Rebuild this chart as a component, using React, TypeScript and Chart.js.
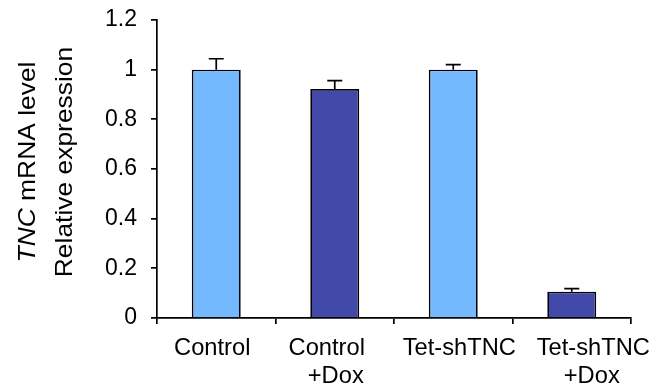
import React, { useEffect, useRef } from "react";
import { Chart, registerables } from "chart.js";

Chart.register(...registerables);

const categories: string[][] = [["Control"], ["Control", "+Dox"], ["Tet-shTNC"], ["Tet-shTNC", "+Dox"]];
const values: number[] = [1.0, 0.922, 1.0, 0.106];
const errors: number[] = [0.044, 0.034, 0.02, 0.012];
const yTickValues: number[] = [0, 0.2, 0.4, 0.6, 0.8, 1, 1.2];
const yTickLabels: string[] = ["0", "0.2", "0.4", "0.6", "0.8", "1", "1.2"];
const titleItalic = "TNC";
const titleRest = " mRNA level";
const titleLine2 = "Relative expression";

const LIGHT = "#74B8FE";
const DARK = "#4349A9";
const FONT = "Liberation Sans, Arial, sans-serif";

// per-line horizontal nudges of category labels (style only)
const labelNudges: number[][] = [[-4], [-8, 1], [6], [21.5, 20]];

export default function App() {
  const ref = useRef<HTMLCanvasElement | null>(null);

  useEffect(() => {
    document.body.style.margin = "0";
    const canvas = ref.current!;

    const errorBars = {
      id: "errorBars",
      afterDatasetsDraw(chart: any) {
        const ctx = chart.ctx;
        const meta = chart.getDatasetMeta(0);
        const y = chart.scales.y;
        ctx.save();
        ctx.strokeStyle = "#000";
        ctx.lineWidth = 1.7;
        meta.data.forEach((bar: any, i: number) => {
          const top = y.getPixelForValue(values[i] + errors[i]);
          ctx.beginPath();
          ctx.moveTo(bar.x, bar.y);
          ctx.lineTo(bar.x, top);
          ctx.moveTo(bar.x - 7.5, top);
          ctx.lineTo(bar.x + 7.5, top);
          ctx.stroke();
        });
        ctx.restore();
      },
    };

    const labelsAndTitle = {
      id: "labelsAndTitle",
      afterDraw(chart: any) {
        const ctx = chart.ctx;
        const x = chart.scales.x;
        const bottom = chart.chartArea.bottom;
        ctx.save();
        ctx.fillStyle = "#000";
        ctx.font = `23.7px ${FONT}`;
        ctx.textAlign = "center";
        ctx.textBaseline = "alphabetic";
        categories.forEach((lines, i) => {
          const cx = x.getPixelForValue(i);
          lines.forEach((t, j) => {
            ctx.fillText(t, cx + labelNudges[i][j], bottom + 37 + j * 28);
          });
        });
        ctx.restore();

        // y-axis title (two lines, rotated)
        const cy = 162;
        const stretch = 1.1;
        ctx.save();
        ctx.fillStyle = "#000";
        ctx.translate(35, cy);
        ctx.rotate(-Math.PI / 2);
        ctx.scale(stretch, 1);
        ctx.textBaseline = "alphabetic";
        ctx.textAlign = "left";
        ctx.font = `italic 24px ${FONT}`;
        const wI = ctx.measureText(titleItalic).width;
        ctx.font = `24px ${FONT}`;
        const wR = ctx.measureText(titleRest).width;
        const start = -(wI + wR) / 2;
        ctx.font = `italic 24px ${FONT}`;
        ctx.fillText(titleItalic, start, 0);
        ctx.font = `24px ${FONT}`;
        ctx.fillText(titleRest, start + wI, 0);
        ctx.restore();

        ctx.save();
        ctx.fillStyle = "#000";
        ctx.translate(72, cy);
        ctx.rotate(-Math.PI / 2);
        ctx.scale(stretch, 1);
        ctx.font = `24px ${FONT}`;
        ctx.textAlign = "center";
        ctx.textBaseline = "alphabetic";
        ctx.fillText(titleLine2, 0, 0);
        ctx.restore();
      },
    };

    const chart = new Chart(canvas, {
      type: "bar",
      data: {
        labels: categories,
        datasets: [
          {
            data: values,
            backgroundColor: values.map((_, i) => (i % 2 === 0 ? LIGHT : DARK)),
            borderColor: "#000",
            borderWidth: 1.7,
            borderSkipped: "bottom",
            barPercentage: 0.413,
            categoryPercentage: 1,
          },
        ],
      },
      options: {
        responsive: false,
        animation: false,
        layout: { padding: { top: 20, right: 23, left: 0, bottom: 0 } },
        plugins: { legend: { display: false }, tooltip: { enabled: false } },
        scales: {
          x: {
            offset: true,
            grid: {
              display: true,
              drawOnChartArea: false,
              drawTicks: true,
              tickLength: 6,
              color: "#000",
              lineWidth: 1.7,
              offset: true,
            },
            border: { display: true, color: "#000", width: 1.7 },
            ticks: { display: false },
            afterFit(scale: any) {
              scale.height = 69;
              scale.paddingLeft = 0;
              scale.paddingRight = 0;
            },
          },
          y: {
            min: 0,
            max: 1.2,
            afterBuildTicks(scale: any) {
              scale.ticks = yTickValues.map((v) => ({ value: v }));
            },
            grid: {
              display: true,
              drawOnChartArea: false,
              drawTicks: true,
              tickLength: 6,
              color: "#000",
              lineWidth: 1.7,
            },
            border: { display: true, color: "#000", width: 1.7 },
            ticks: {
              color: "#000",
              padding: 14,
              font: { family: FONT, size: 23 },
              callback: (_v: any, i: number) => yTickLabels[i],
            },
            afterFit(scale: any) {
              scale.width = 157;
              scale.paddingTop = 0;
              scale.paddingBottom = 0;
            },
          },
        },
      },
      plugins: [errorBars, labelsAndTitle],
    });
    return () => chart.destroy();
  }, []);

  return (
    <div style={{ position: "absolute", left: 0, top: 0, width: 654, height: 387 }}>
      <canvas ref={ref} width={654} height={387} style={{ display: "block" }} />
    </div>
  );
}
